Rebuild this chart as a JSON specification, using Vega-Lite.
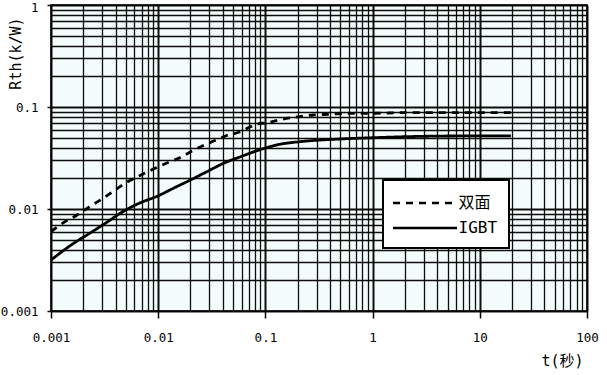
{
  "$schema": "https://vega.github.io/schema/vega-lite/v6.json",
  "width": 536,
  "height": 306,
  "autosize": "none",
  "padding": {"left": 51, "top": 5, "right": 20, "bottom": 64},
  "background": "white",
  "view": {"fill": "#f3fbfb", "stroke": "black", "strokeWidth": 1.5},
  "data": {
    "values": [
      {"series": "双面", "t": 0.001, "R": 0.0060},
      {"series": "双面", "t": 0.00132, "R": 0.0074},
      {"series": "双面", "t": 0.00171, "R": 0.0086},
      {"series": "双面", "t": 0.00228, "R": 0.0105},
      {"series": "双面", "t": 0.00291, "R": 0.0123},
      {"series": "双面", "t": 0.00388, "R": 0.0151},
      {"series": "双面", "t": 0.00502, "R": 0.0181},
      {"series": "双面", "t": 0.00664, "R": 0.0211},
      {"series": "双面", "t": 0.00891, "R": 0.0245},
      {"series": "双面", "t": 0.0119, "R": 0.0281},
      {"series": "双面", "t": 0.0159, "R": 0.0318},
      {"series": "双面", "t": 0.0207, "R": 0.037},
      {"series": "双面", "t": 0.027, "R": 0.0424},
      {"series": "双面", "t": 0.0366, "R": 0.0486},
      {"series": "双面", "t": 0.0424, "R": 0.052},
      {"series": "双面", "t": 0.0563, "R": 0.0565},
      {"series": "双面", "t": 0.0727, "R": 0.064},
      {"series": "双面", "t": 0.0826, "R": 0.068},
      {"series": "双面", "t": 0.104, "R": 0.0701},
      {"series": "双面", "t": 0.143, "R": 0.0759},
      {"series": "双面", "t": 0.198, "R": 0.080},
      {"series": "双面", "t": 0.28, "R": 0.0835},
      {"series": "双面", "t": 0.39, "R": 0.0848},
      {"series": "双面", "t": 0.56, "R": 0.0866},
      {"series": "双面", "t": 1.06, "R": 0.0868},
      {"series": "双面", "t": 2.04, "R": 0.088},
      {"series": "双面", "t": 4.0, "R": 0.088},
      {"series": "双面", "t": 7.9, "R": 0.088},
      {"series": "双面", "t": 20.3, "R": 0.088},
      {"series": "IGBT", "t": 0.001, "R": 0.00316},
      {"series": "IGBT", "t": 0.00162, "R": 0.0046},
      {"series": "IGBT", "t": 0.00231, "R": 0.0058},
      {"series": "IGBT", "t": 0.00331, "R": 0.0074},
      {"series": "IGBT", "t": 0.00474, "R": 0.0095},
      {"series": "IGBT", "t": 0.00679, "R": 0.0115},
      {"series": "IGBT", "t": 0.00973, "R": 0.0133},
      {"series": "IGBT", "t": 0.0139, "R": 0.0160},
      {"series": "IGBT", "t": 0.0199, "R": 0.0192},
      {"series": "IGBT", "t": 0.0284, "R": 0.0232},
      {"series": "IGBT", "t": 0.0408, "R": 0.0281},
      {"series": "IGBT", "t": 0.0584, "R": 0.0325},
      {"series": "IGBT", "t": 0.0837, "R": 0.0373},
      {"series": "IGBT", "t": 0.138, "R": 0.0432},
      {"series": "IGBT", "t": 0.21, "R": 0.0457},
      {"series": "IGBT", "t": 0.5, "R": 0.0486},
      {"series": "IGBT", "t": 1.02, "R": 0.050},
      {"series": "IGBT", "t": 2.1, "R": 0.0512},
      {"series": "IGBT", "t": 6.6, "R": 0.052},
      {"series": "IGBT", "t": 19.5, "R": 0.052}
    ]
  },
  "mark": {"type": "line", "color": "black", "strokeWidth": 2.8, "clip": true, "interpolate": "monotone"},
  "encoding": {
    "x": {
      "field": "t",
      "type": "quantitative",
      "scale": {"type": "log", "domain": [0.001, 100], "nice": false},
      "axis": {
        "title": "t(秒)",
        "titleFont": "DejaVu Sans Mono, Noto Sans CJK SC",
        "titleFontSize": 15,
        "titleFontWeight": "normal",
        "titleColor": "black",
        "titleX": 511,
        "titleY": 49,
        "titleAlign": "center",
        "titleBaseline": "middle",
        "values": [0.001,0.002,0.003,0.004,0.005,0.006,0.007,0.008,0.009,0.01,0.02,0.03,0.04,0.05,0.06,0.07,0.08,0.09,0.1,0.2,0.3,0.4,0.5,0.6,0.7,0.8,0.9,1,2,3,4,5,6,7,8,9,10,20,30,40,50,60,70,80,90,100],
        "format": "~g",
        "labelExpr": "indexof([0.001,0.01,0.1,1,10,100], datum.value) >= 0 ? datum.label : ''",
        "labelOverlap": false,
        "labelFlush": false,
        "labelBound": false,
        "labelFont": "DejaVu Sans Mono",
        "labelFontSize": 12.5,
        "labelColor": "black",
        "labelPadding": 13,
        "tickSize": 7,
        "tickColor": "black",
        "tickWidth": 1.5,
        "tickOpacity": {"condition": {"test": "indexof([0.001,0.01,0.1,1,10,100], datum.value) >= 0", "value": 1}, "value": 0},
        "domain": false,
        "grid": true,
        "gridColor": "black",
        "gridOpacity": 0.95,
        "gridWidth": {"condition": {"test": "indexof([0.001,0.01,0.1,1,10,100], datum.value) >= 0", "value": 2}, "value": 1.3}
      }
    },
    "y": {
      "field": "R",
      "type": "quantitative",
      "scale": {"type": "log", "domain": [0.001, 1], "nice": false},
      "axis": {
        "title": "Rth(k/W)",
        "titleFont": "DejaVu Sans Mono",
        "titleFontSize": 15,
        "titleFontWeight": "normal",
        "titleColor": "black",
        "titleX": -36,
        "titleY": 48,
        "titleAngle": 270,
        "titleAlign": "center",
        "titleBaseline": "middle",
        "values": [0.001,0.002,0.003,0.004,0.005,0.006,0.007,0.008,0.009,0.01,0.02,0.03,0.04,0.05,0.06,0.07,0.08,0.09,0.1,0.2,0.3,0.4,0.5,0.6,0.7,0.8,0.9,1],
        "format": "~g",
        "labelExpr": "indexof([0.001,0.01,0.1,1], datum.value) >= 0 ? datum.label : ''",
        "labelOverlap": false,
        "labelFlush": false,
        "labelBound": false,
        "labelFont": "DejaVu Sans Mono",
        "labelFontSize": 12.5,
        "labelColor": "black",
        "labelPadding": 9,
        "labelOffset": {"condition": {"test": "datum.value == 1", "value": 2}, "value": 0},
        "tickSize": 4,
        "tickColor": "black",
        "tickWidth": 1.5,
        "tickOpacity": {"condition": {"test": "indexof([0.001,0.01,0.1,1], datum.value) >= 0", "value": 1}, "value": 0},
        "domain": false,
        "grid": true,
        "gridColor": "black",
        "gridOpacity": 0.95,
        "gridWidth": {"condition": {"test": "indexof([0.001,0.01,0.1,1], datum.value) >= 0", "value": 2}, "value": 1.3}
      }
    },
    "strokeDash": {
      "field": "series",
      "type": "nominal",
      "scale": {"domain": ["双面", "IGBT"], "range": [[7, 6], [1, 0]]},
      "legend": {
        "orient": "none",
        "legendX": 332,
        "legendY": 175,
        "title": null,
        "symbolType": "M-3.2,0H3.2",
        "symbolSize": 400,
        "symbolStrokeWidth": 2.5,
        "symbolStrokeColor": "black",
        "symbolOffset": 19,
        "labelFont": "DejaVu Sans Mono, Noto Sans CJK SC",
        "labelFontSize": 16,
        "labelColor": "black",
        "labelOffset": 22,
        "fillColor": "white",
        "strokeColor": "black",
        "padding": 11.5,
        "rowPadding": 5,
        "encode": {"legend": {"update": {"strokeWidth": {"value": 2}}}}
      }
    }
  }
}
